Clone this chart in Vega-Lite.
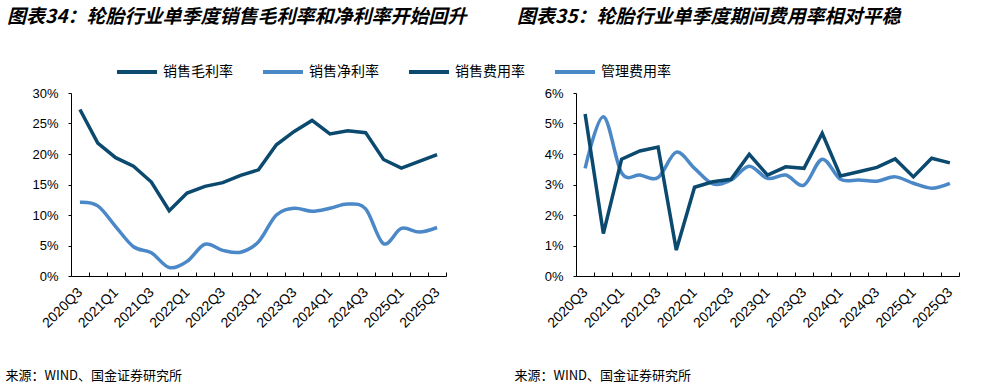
{
  "$schema": "https://vega.github.io/schema/vega-lite/v6.json",
  "background": "white",
  "padding": {"left": 5, "top": 8, "right": 5, "bottom": 5},
  "datasets": {
    "left": [
      {"quarter": "2020Q3", "series": "销售毛利率", "value": 27.3},
      {"quarter": "2020Q4", "series": "销售毛利率", "value": 21.8},
      {"quarter": "2021Q1", "series": "销售毛利率", "value": 19.4},
      {"quarter": "2021Q2", "series": "销售毛利率", "value": 18.0},
      {"quarter": "2021Q3", "series": "销售毛利率", "value": 15.4},
      {"quarter": "2021Q4", "series": "销售毛利率", "value": 10.7},
      {"quarter": "2022Q1", "series": "销售毛利率", "value": 13.6},
      {"quarter": "2022Q2", "series": "销售毛利率", "value": 14.7},
      {"quarter": "2022Q3", "series": "销售毛利率", "value": 15.3},
      {"quarter": "2022Q4", "series": "销售毛利率", "value": 16.5},
      {"quarter": "2023Q1", "series": "销售毛利率", "value": 17.4},
      {"quarter": "2023Q2", "series": "销售毛利率", "value": 21.5},
      {"quarter": "2023Q3", "series": "销售毛利率", "value": 23.7},
      {"quarter": "2023Q4", "series": "销售毛利率", "value": 25.5},
      {"quarter": "2024Q1", "series": "销售毛利率", "value": 23.3},
      {"quarter": "2024Q2", "series": "销售毛利率", "value": 23.8},
      {"quarter": "2024Q3", "series": "销售毛利率", "value": 23.5},
      {"quarter": "2024Q4", "series": "销售毛利率", "value": 19.1},
      {"quarter": "2025Q1", "series": "销售毛利率", "value": 17.7},
      {"quarter": "2025Q2", "series": "销售毛利率", "value": 18.8},
      {"quarter": "2025Q3", "series": "销售毛利率", "value": 19.9},
      {"quarter": "2020Q3", "series": "销售净利率", "value": 12.1},
      {"quarter": "2020Q4", "series": "销售净利率", "value": 11.5},
      {"quarter": "2021Q1", "series": "销售净利率", "value": 8.1},
      {"quarter": "2021Q2", "series": "销售净利率", "value": 4.8},
      {"quarter": "2021Q3", "series": "销售净利率", "value": 3.8},
      {"quarter": "2021Q4", "series": "销售净利率", "value": 1.4},
      {"quarter": "2022Q1", "series": "销售净利率", "value": 2.4},
      {"quarter": "2022Q2", "series": "销售净利率", "value": 5.2},
      {"quarter": "2022Q3", "series": "销售净利率", "value": 4.2},
      {"quarter": "2022Q4", "series": "销售净利率", "value": 3.9},
      {"quarter": "2023Q1", "series": "销售净利率", "value": 5.6},
      {"quarter": "2023Q2", "series": "销售净利率", "value": 10.0},
      {"quarter": "2023Q3", "series": "销售净利率", "value": 11.1},
      {"quarter": "2023Q4", "series": "销售净利率", "value": 10.6},
      {"quarter": "2024Q1", "series": "销售净利率", "value": 11.1},
      {"quarter": "2024Q2", "series": "销售净利率", "value": 11.8},
      {"quarter": "2024Q3", "series": "销售净利率", "value": 11.0},
      {"quarter": "2024Q4", "series": "销售净利率", "value": 5.3},
      {"quarter": "2025Q1", "series": "销售净利率", "value": 7.8},
      {"quarter": "2025Q2", "series": "销售净利率", "value": 7.2},
      {"quarter": "2025Q3", "series": "销售净利率", "value": 7.95}
    ],
    "right": [
      {"quarter": "2020Q3", "series": "销售费用率", "value": 5.31},
      {"quarter": "2020Q4", "series": "销售费用率", "value": 1.39},
      {"quarter": "2021Q1", "series": "销售费用率", "value": 3.83},
      {"quarter": "2021Q2", "series": "销售费用率", "value": 4.10},
      {"quarter": "2021Q3", "series": "销售费用率", "value": 4.23},
      {"quarter": "2021Q4", "series": "销售费用率", "value": 0.85},
      {"quarter": "2022Q1", "series": "销售费用率", "value": 2.91},
      {"quarter": "2022Q2", "series": "销售费用率", "value": 3.09},
      {"quarter": "2022Q3", "series": "销售费用率", "value": 3.17},
      {"quarter": "2022Q4", "series": "销售费用率", "value": 3.99},
      {"quarter": "2023Q1", "series": "销售费用率", "value": 3.31},
      {"quarter": "2023Q2", "series": "销售费用率", "value": 3.58},
      {"quarter": "2023Q3", "series": "销售费用率", "value": 3.53},
      {"quarter": "2023Q4", "series": "销售费用率", "value": 4.68},
      {"quarter": "2024Q1", "series": "销售费用率", "value": 3.28},
      {"quarter": "2024Q2", "series": "销售费用率", "value": 3.42},
      {"quarter": "2024Q3", "series": "销售费用率", "value": 3.56},
      {"quarter": "2024Q4", "series": "销售费用率", "value": 3.84},
      {"quarter": "2025Q1", "series": "销售费用率", "value": 3.25},
      {"quarter": "2025Q2", "series": "销售费用率", "value": 3.86},
      {"quarter": "2025Q3", "series": "销售费用率", "value": 3.71},
      {"quarter": "2020Q3", "series": "管理费用率", "value": 3.53},
      {"quarter": "2020Q4", "series": "管理费用率", "value": 5.22},
      {"quarter": "2021Q1", "series": "管理费用率", "value": 3.38},
      {"quarter": "2021Q2", "series": "管理费用率", "value": 3.31},
      {"quarter": "2021Q3", "series": "管理费用率", "value": 3.23},
      {"quarter": "2021Q4", "series": "管理费用率", "value": 4.06},
      {"quarter": "2022Q1", "series": "管理费用率", "value": 3.53},
      {"quarter": "2022Q2", "series": "管理费用率", "value": 3.02},
      {"quarter": "2022Q3", "series": "管理费用率", "value": 3.15},
      {"quarter": "2022Q4", "series": "管理费用率", "value": 3.6},
      {"quarter": "2023Q1", "series": "管理费用率", "value": 3.2},
      {"quarter": "2023Q2", "series": "管理费用率", "value": 3.31},
      {"quarter": "2023Q3", "series": "管理费用率", "value": 2.98},
      {"quarter": "2023Q4", "series": "管理费用率", "value": 3.83},
      {"quarter": "2024Q1", "series": "管理费用率", "value": 3.17},
      {"quarter": "2024Q2", "series": "管理费用率", "value": 3.15},
      {"quarter": "2024Q3", "series": "管理费用率", "value": 3.11},
      {"quarter": "2024Q4", "series": "管理费用率", "value": 3.25},
      {"quarter": "2025Q1", "series": "管理费用率", "value": 3.04},
      {"quarter": "2025Q2", "series": "管理费用率", "value": 2.88},
      {"quarter": "2025Q3", "series": "管理费用率", "value": 3.04}
    ]
  },
  "bounds": "flush",
  "spacing": 130,
  "hconcat": [
    {
      "width": 375,
      "height": 183,
      "data": {"name": "left"},
      "title": {
        "text": "图表34：轮胎行业单季度销售毛利率和净利率开始回升",
        "anchor": "start", "frame": "group", "dx": -64, "offset": 60,
        "font": "Noto Sans CJK SC", "fontSize": 19, "fontWeight": "bold", "fontStyle": "italic", "color": "black"
      },
      "encoding": {
        "x": {
          "field": "quarter", "type": "ordinal", "sort": null, "bandPosition": 0.5,
          "scale": {"type": "band", "paddingInner": 0, "paddingOuter": 0},
          "axis": {
            "title": "来源：WIND、国金证券研究所",
            "titleAnchor": "start", "titleAlign": "left", "titleX": -66, "titleY": 99, "titleBaseline": "middle",
            "titleFont": "Noto Sans CJK SC", "titleFontSize": 13, "titleFontWeight": "normal", "titleColor": "black",
            "labelAngle": -45, "labelBaseline": "middle", "labelAlign": "right",
            "labelExpr": "(indexof(datum.label,'Q1')>=0 || indexof(datum.label,'Q3')>=0) ? datum.label : ''",
            "labelFont": "Liberation Sans", "labelFontSize": 14, "labelColor": "black", "labelPadding": 18,
            "labelOverlap": false, "tickSize": -4, "tickColor": "black", "domainColor": "black", "tickBand": "extent", "grid": false
          }
        },
        "y": {
          "field": "value", "type": "quantitative",
          "scale": {"domain": [0, 30], "nice": false},
          "axis": {
            "title": null, "values": [0, 5, 10, 15, 20, 25, 30], "labelExpr": "datum.value + '%'",
            "labelFont": "Liberation Sans", "labelFontSize": 13, "labelColor": "black",
            "tickSize": 3, "labelPadding": 10, "grid": false, "domainColor": "black", "tickColor": "black"
          }
        },
        "color": {
          "field": "series", "type": "nominal",
          "scale": {"domain": ["销售毛利率", "销售净利率"], "range": ["#0b4a6e", "#4a88c7"]},
          "legend": {
            "orient": "none", "legendX": 44, "legendY": -43, "direction": "horizontal", "title": null,
            "symbolType": "stroke", "symbolSize": 1600, "symbolStrokeWidth": 4,
            "labelFont": "Noto Sans CJK SC", "labelFontSize": 14, "labelColor": "black", "labelOffset": 4,
            "columnPadding": 22, "labelLimit": 200
          }
        }
      },
      "layer": [
        {"transform": [{"filter": "datum.series === '销售毛利率'"}], "mark": {"type": "line", "strokeWidth": 3.5, "interpolate": "linear"}},
        {"transform": [{"filter": "datum.series === '销售净利率'"}], "mark": {"type": "line", "strokeWidth": 3.5, "interpolate": "cardinal"}}
      ]
    },
    {
      "width": 383,
      "height": 183,
      "data": {"name": "right"},
      "title": {
        "text": "图表35：轮胎行业单季度期间费用率相对平稳",
        "anchor": "start", "frame": "group", "dx": -59, "offset": 60,
        "font": "Noto Sans CJK SC", "fontSize": 19, "fontWeight": "bold", "fontStyle": "italic", "color": "black"
      },
      "encoding": {
        "x": {
          "field": "quarter", "type": "ordinal", "sort": null, "bandPosition": 0.5,
          "scale": {"type": "band", "paddingInner": 0, "paddingOuter": 0},
          "axis": {
            "title": "来源：WIND、国金证券研究所",
            "titleAnchor": "start", "titleAlign": "left", "titleX": -62, "titleY": 99, "titleBaseline": "middle",
            "titleFont": "Noto Sans CJK SC", "titleFontSize": 13, "titleFontWeight": "normal", "titleColor": "black",
            "labelAngle": -45, "labelBaseline": "middle", "labelAlign": "right",
            "labelExpr": "(indexof(datum.label,'Q1')>=0 || indexof(datum.label,'Q3')>=0) ? datum.label : ''",
            "labelFont": "Liberation Sans", "labelFontSize": 14, "labelColor": "black", "labelPadding": 18,
            "labelOverlap": false, "tickSize": -4, "tickColor": "black", "domainColor": "black", "tickBand": "extent", "grid": false
          }
        },
        "y": {
          "field": "value", "type": "quantitative",
          "scale": {"domain": [0, 6], "nice": false},
          "axis": {
            "title": null, "values": [0, 1, 2, 3, 4, 5, 6], "labelExpr": "datum.value + '%'",
            "labelFont": "Liberation Sans", "labelFontSize": 13, "labelColor": "black",
            "tickSize": 3, "labelPadding": 10, "grid": false, "domainColor": "black", "tickColor": "black"
          }
        },
        "color": {
          "field": "series", "type": "nominal",
          "scale": {"domain": ["销售费用率", "管理费用率"], "range": ["#0b4a6e", "#4a88c7"]},
          "legend": {
            "orient": "none", "legendX": 51, "legendY": -43, "direction": "horizontal", "title": null,
            "symbolType": "stroke", "symbolSize": 1600, "symbolStrokeWidth": 4,
            "labelFont": "Noto Sans CJK SC", "labelFontSize": 14, "labelColor": "black", "labelOffset": 4,
            "columnPadding": 22, "labelLimit": 200
          }
        }
      },
      "layer": [
        {"transform": [{"filter": "datum.series === '管理费用率'"}], "mark": {"type": "line", "strokeWidth": 3.5, "interpolate": "cardinal"}},
        {"transform": [{"filter": "datum.series === '销售费用率'"}], "mark": {"type": "line", "strokeWidth": 3.5, "interpolate": "linear"}}
      ]
    }
  ],
  "config": {
    "view": {"stroke": null},
    "font": "Liberation Sans"
  }
}
